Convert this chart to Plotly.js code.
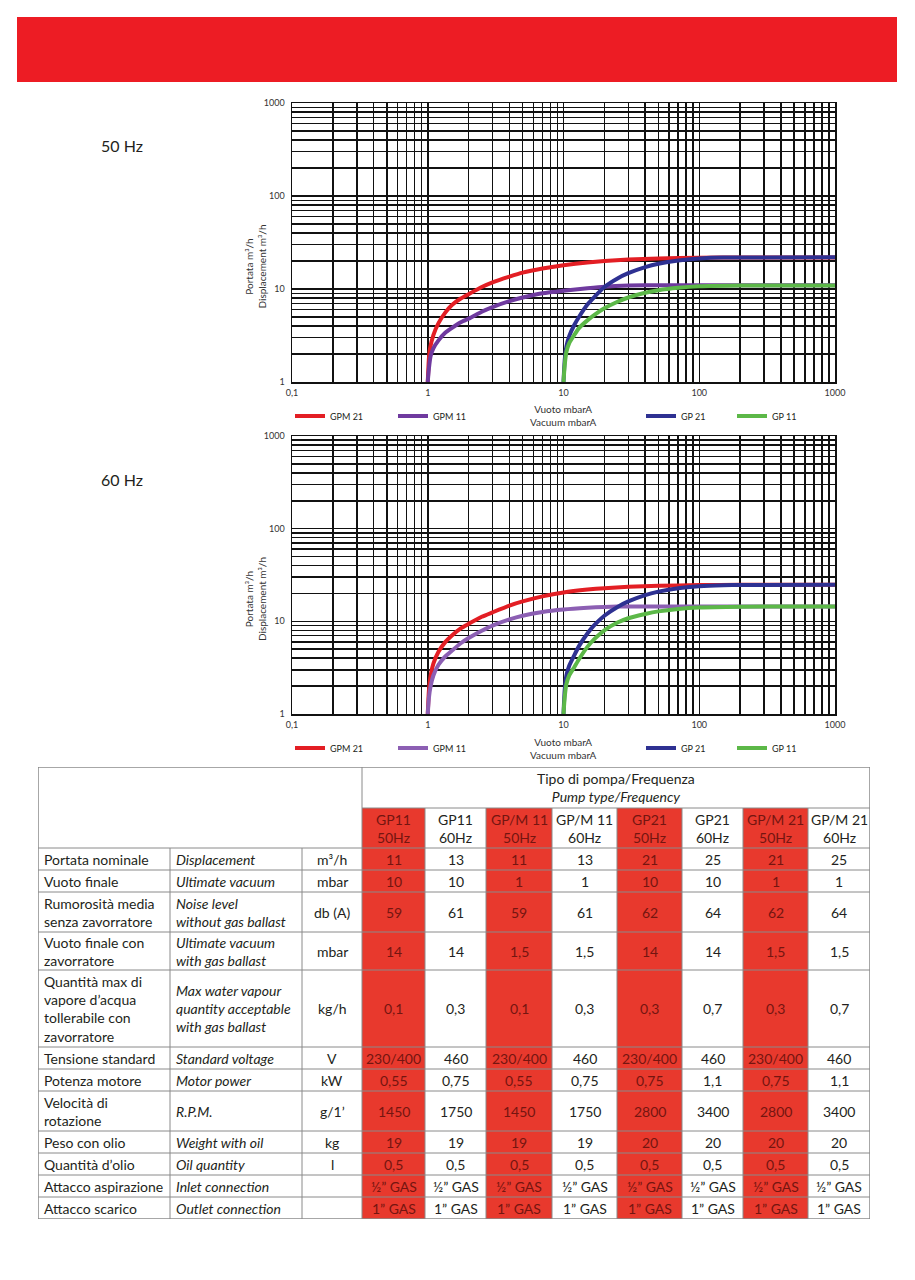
<!DOCTYPE html>
<html><head><meta charset="utf-8">
<script src="https://cdn.plot.ly/plotly-3.0.1.min.js"></script>
<style>html,body{margin:0;padding:0;background:#fff}#chart{width:915px;height:1280px}</style>
</head><body><div id="chart"></div>
<script>
// ================= DATA =================
const xTickLabels = ['0,1', '1', '10', '100', '1000'];
const yTickLabels = ['1', '10', '100', '1000'];
const seriesNames = ['GPM 21', 'GPM 11', 'GP 21', 'GP 11'];
const panelLabels = ['50 Hz', '60 Hz'];

// 50 Hz curves (x: vacuum mbarA, y: displacement m3/h)
const gpm21_50_x = [1, 1.02, 1.04, 1.1, 1.2, 1.35, 1.5, 1.75, 2, 2.5, 3, 4, 5, 7, 10, 15, 20, 30, 50, 100, 200, 1000];
const gpm21_50_y = [1, 1.8, 2.3, 3.2, 4.3, 5.6, 6.7, 7.9, 8.8, 10.5, 11.8, 13.6, 15, 16.6, 18, 19.3, 20, 20.7, 21.3, 21.7, 21.8, 21.8];
const gpm11_50_x = [1, 1.02, 1.05, 1.1, 1.2, 1.35, 1.5, 1.75, 2, 2.5, 3, 4, 5, 7, 10, 15, 20, 30, 50, 1000];
const gpm11_50_y = [1, 1.4, 1.9, 2.3, 2.8, 3.4, 3.8, 4.4, 4.8, 5.7, 6.4, 7.4, 8.1, 9, 9.6, 10.2, 10.6, 10.9, 11, 11];
const gp21_50_x = [10, 10.2, 10.5, 11, 12, 13, 15, 17, 20, 25, 30, 40, 50, 70, 100, 150, 1000];
const gp21_50_y = [1, 1.7, 2.4, 3.1, 4.1, 5, 6.8, 8.3, 10.5, 13, 14.8, 17.2, 18.7, 20.3, 21.3, 21.8, 21.9];
const gp11_50_x = [10, 10.2, 10.5, 11, 12, 13, 15, 17, 20, 25, 30, 40, 50, 70, 100, 200, 1000];
const gp11_50_y = [1, 1.5, 2.1, 2.6, 3.2, 3.8, 4.6, 5.3, 6.2, 7.3, 8.1, 9.1, 9.7, 10.3, 10.7, 10.9, 10.9];

// 60 Hz curves
const gpm21_60_x = [1, 1.02, 1.05, 1.1, 1.2, 1.35, 1.5, 1.75, 2, 2.5, 3, 4, 5, 7, 10, 15, 20, 30, 50, 100, 200, 1000];
const gpm21_60_y = [1, 1.8, 2.6, 3.5, 4.7, 6, 7, 8.4, 9.4, 11.2, 12.5, 14.8, 16.4, 18.6, 20.5, 22, 22.8, 23.6, 24.2, 24.6, 24.8, 24.8];
const gpm11_60_x = [1, 1.02, 1.05, 1.1, 1.2, 1.35, 1.5, 1.75, 2, 2.5, 3, 4, 5, 7, 10, 15, 20, 30, 1000];
const gpm11_60_y = [1, 1.5, 2, 2.6, 3.4, 4.2, 4.8, 5.8, 6.6, 7.9, 9, 10.5, 11.5, 12.6, 13.4, 14, 14.3, 14.5, 14.5];
const gp21_60_x = [10, 10.2, 10.5, 11, 12, 13, 15, 17, 20, 25, 30, 40, 50, 70, 100, 150, 200, 1000];
const gp21_60_y = [1, 1.8, 2.6, 3.3, 4.3, 5.4, 7.4, 9.2, 11.5, 14.3, 16.4, 19.2, 20.9, 22.8, 23.9, 24.5, 24.7, 24.8];
const gp11_60_x = [10, 10.2, 10.5, 11, 12, 13, 15, 17, 20, 25, 30, 40, 50, 70, 100, 200, 1000];
const gp11_60_y = [1, 1.5, 2.1, 2.6, 3.2, 3.9, 5.3, 6.5, 8, 9.7, 10.8, 12, 12.8, 13.6, 14.1, 14.4, 14.5];

// Table
const tableTitleIt = 'Tipo di pompa/Frequenza';
const tableTitleEn = 'Pump type/Frequency';
const modelNames = ['GP11<br>50Hz', 'GP11<br>60Hz', 'GP/M 11<br>50Hz', 'GP/M 11<br>60Hz', 'GP21<br>50Hz', 'GP21<br>60Hz', 'GP/M 21<br>50Hz', 'GP/M 21<br>60Hz'];
const rowLabelsIt = ['Portata nominale', 'Vuoto finale', 'Rumorosità media<br>senza zavorratore', 'Vuoto finale con<br>zavorratore',
  'Quantità max di<br>vapore d’acqua<br>tollerabile con<br>zavorratore', 'Tensione standard', 'Potenza motore', 'Velocità di<br>rotazione',
  'Peso con olio', 'Quantità d’olio', 'Attacco aspirazione', 'Attacco scarico'];
const rowLabelsEn = ['Displacement', 'Ultimate vacuum', 'Noise level<br>without gas ballast', 'Ultimate vacuum<br>with gas ballast',
  'Max water vapour<br>quantity acceptable<br>with gas ballast', 'Standard voltage', 'Motor power', 'R.P.M.',
  'Weight with oil', 'Oil quantity', 'Inlet connection', 'Outlet connection'];
const units = ['m³/h', 'mbar', 'db (A)', 'mbar', 'kg/h', 'V', 'kW', 'g/1’', 'kg', 'l', '', ''];
const gp11_50hz  = ['11', '10', '59', '14', '0,1', '230/400', '0,55', '1450', '19', '0,5', '½” GAS', '1” GAS'];
const gp11_60hz  = ['13', '10', '61', '14', '0,3', '460', '0,75', '1750', '19', '0,5', '½” GAS', '1” GAS'];
const gpm11_50hz = ['11', '1', '59', '1,5', '0,1', '230/400', '0,55', '1450', '19', '0,5', '½” GAS', '1” GAS'];
const gpm11_60hz = ['13', '1', '61', '1,5', '0,3', '460', '0,75', '1750', '19', '0,5', '½” GAS', '1” GAS'];
const gp21_50hz  = ['21', '10', '62', '14', '0,3', '230/400', '0,75', '2800', '20', '0,5', '½” GAS', '1” GAS'];
const gp21_60hz  = ['25', '10', '64', '14', '0,7', '460', '1,1', '3400', '20', '0,5', '½” GAS', '1” GAS'];
const gpm21_50hz = ['21', '1', '62', '1,5', '0,3', '230/400', '0,75', '2800', '20', '0,5', '½” GAS', '1” GAS'];
const gpm21_60hz = ['25', '1', '64', '1,5', '0,7', '460', '1,1', '3400', '20', '0,5', '½” GAS', '1” GAS'];
const modelValues = [gp11_50hz, gp11_60hz, gpm11_50hz, gpm11_60hz, gp21_50hz, gp21_60hz, gpm21_50hz, gpm21_60hz];

// ================= STYLE / LAYOUT =================
const W = 915, H = 1280;
const px = v => v / W;
const py = v => 1 - v / H;
const FONT = 'Lato, "Open Sans", sans-serif';
const RED = '#ed1c24';
const CELL_RED = '#e8392d';
const CELL_RED_TXT = '#741510';
const TXT = '#231f20';
const BORDER = '#8a8a8a';
const seriesColors = [['#e31e24', '#6f3a9f', '#2e3192', '#5cb848'], ['#e31e24', '#8c5fb3', '#2e3192', '#5cb848']];

const panels = [
  {top: 103, bottom: 382, left: 292, right: 835},
  {top: 436, bottom: 714, left: 292, right: 835}
];
const curves = [
  [[gpm21_50_x, gpm21_50_y], [gpm11_50_x, gpm11_50_y], [gp21_50_x, gp21_50_y], [gp11_50_x, gp11_50_y]],
  [[gpm21_60_x, gpm21_60_y], [gpm11_60_x, gpm11_60_y], [gp21_60_x, gp21_60_y], [gp11_60_x, gp11_60_y]]
];
const legendX = [290, 393, 641, 732];

// tick positions on log axes: every digit of every decade
function logTicks(minExp, maxExp, labels) {
  const vals = [], text = [];
  for (let e = minExp; e < maxExp; e++) {
    for (let d = 1; d <= 9; d++) {
      vals.push(d * Math.pow(10, e));
      text.push(d === 1 ? labels[e - minExp] : '');
    }
  }
  vals.push(Math.pow(10, maxExp));
  text.push(labels[labels.length - 1]);
  return {vals, text};
}
const xt = logTicks(-1, 3, xTickLabels);
const yt = logTicks(0, 3, yTickLabels);

const traces = [];
const layout = {
  width: W, height: H,
  margin: {l: 0, r: 0, t: 0, b: 0},
  paper_bgcolor: '#fff', plot_bgcolor: '#fff',
  font: {family: FONT, color: TXT},
  showlegend: true,
  shapes: [], annotations: []
};

// red band
layout.shapes.push({type: 'rect', xref: 'paper', yref: 'paper', x0: px(17), x1: px(897), y0: py(82), y1: py(17),
  fillcolor: RED, line: {width: 0}, layer: 'below'});

panels.forEach((p, pi) => {
  const xa = pi === 0 ? 'xaxis' : 'xaxis2';
  const ya = pi === 0 ? 'yaxis' : 'yaxis2';
  const xr = pi === 0 ? 'x' : 'x2';
  const yr = pi === 0 ? 'y' : 'y2';
  const axCommon = {
    type: 'log', tickmode: 'array', showline: true, mirror: true, linecolor: '#111', linewidth: 1.5,
    showgrid: true, gridcolor: '#111', gridwidth: 1.5, ticks: '', fixedrange: true,
    tickfont: {size: 9, color: '#333', family: FONT}, zeroline: false
  };
  layout[xa] = Object.assign({}, axCommon, {
    domain: [px(p.left), px(p.right)], range: [-1, 3], anchor: yr,
    tickvals: xt.vals, ticktext: xt.text, ticklabelstandoff: 2
  });
  layout[ya] = Object.assign({}, axCommon, {
    domain: [py(p.bottom), py(p.top)], range: [0, 3], anchor: xr,
    tickvals: yt.vals, ticktext: yt.text, ticklabelstandoff: 4
  });
  curves[pi].forEach((c, si) => {
    const lgName = 'legend' + (pi * 4 + si === 0 ? '' : (pi * 4 + si + 1));
    traces.push({
      type: 'scatter', mode: 'lines', x: c[0], y: c[1], xaxis: xr, yaxis: yr,
      name: seriesNames[si], legend: lgName,
      line: {color: seriesColors[pi][si], width: 4, shape: 'spline', smoothing: 0.5},
      hoverinfo: 'skip', cliponaxis: true
    });
    layout[lgName] = {
      x: px(legendX[si]), y: py(p.bottom + 34), xanchor: 'left', yanchor: 'middle',
      orientation: 'h', bgcolor: 'rgba(0,0,0,0)', borderwidth: 0,
      font: {size: 9, color: TXT, family: FONT}, itemwidth: 30
    };
  });
  // axis titles
  layout.annotations.push({xref: 'paper', yref: 'paper', x: px(255), y: py((p.top + p.bottom) / 2 + 24),
    text: 'Portata m³/h<br>Displacement m³/h', textangle: -90, showarrow: false,
    xanchor: 'center', yanchor: 'middle', font: {size: 10, color: '#333', family: FONT}});
  layout.annotations.push({xref: 'paper', yref: 'paper', x: px((p.left + p.right) / 2), y: py(p.bottom + 34),
    text: 'Vuoto mbarA<br>Vacuum mbarA', showarrow: false,
    xanchor: 'center', yanchor: 'middle', font: {size: 10, color: '#333', family: FONT}});
  // panel label
  layout.annotations.push({xref: 'paper', yref: 'paper', x: px(99), y: py(p.top + 43),
    text: panelLabels[pi], showarrow: false, xanchor: 'left', yanchor: 'middle',
    font: {size: 16, color: TXT, family: FONT}});
});

// ================= TABLE (on hidden axes x3/y3, units = px) =================
const colWidths = [132, 132, 60, 63, 61, 66, 65, 65, 61, 65, 62];
const rowHeights = [41, 40, 22, 22, 40, 38, 77, 22, 22, 40, 22, 22, 22, 22];
const colX = [0]; colWidths.forEach(w => colX.push(colX[colX.length - 1] + w));
const rowY = [0]; rowHeights.forEach(h => rowY.push(rowY[rowY.length - 1] + h));
const TW = colX[colX.length - 1], TH = rowY[rowY.length - 1];
const T = {left: 38, top: 767};
layout.xaxis3 = {domain: [px(T.left), px(T.left + TW)], range: [0, TW], visible: false, anchor: 'y3', fixedrange: true};
layout.yaxis3 = {domain: [py(T.top + TH), py(T.top)], range: [TH, 0], visible: false, anchor: 'x3', fixedrange: true};
traces.push({type: 'scatter', x: [], y: [], xaxis: 'x3', yaxis: 'y3', showlegend: false, hoverinfo: 'skip'});

const tShape = o => Object.assign({xref: 'x3', yref: 'y3', layer: 'above'}, o);
const isRedCol = m => m % 2 === 0;
// red fills
modelNames.forEach((m, mi) => {
  if (isRedCol(mi)) layout.shapes.push(tShape({type: 'rect', x0: colX[3 + mi], x1: colX[4 + mi], y0: rowY[1], y1: TH,
    fillcolor: CELL_RED, line: {width: 0}}));
});
// grid lines
const ln = (x0, y0, x1, y1) => layout.shapes.push(tShape({type: 'line', x0, y0, x1, y1, line: {color: BORDER, width: 1}}));
ln(colX[3], rowY[1], TW, rowY[1]);
for (let r = 2; r < rowY.length - 1; r++) ln(0, rowY[r], TW, rowY[r]);
ln(colX[1], rowY[2], colX[1], TH);
ln(colX[2], rowY[2], colX[2], TH);
ln(colX[3], 0, colX[3], TH);
for (let c = 4; c < colX.length - 1; c++) ln(colX[c], rowY[1], colX[c], TH);
layout.shapes.push(tShape({type: 'rect', x0: 0, x1: TW, y0: 0, y1: TH, line: {color: BORDER, width: 1.5}, fillcolor: 'rgba(0,0,0,0)'}));

const tText = (text, x, y, xanchor, color, italic) => layout.annotations.push({
  xref: 'x3', yref: 'y3', x, y, text, showarrow: false, xanchor, yanchor: 'middle',
  align: xanchor === 'left' ? 'left' : 'center', borderpad: 0,
  font: {size: 14, color, family: FONT, style: italic ? 'italic' : 'normal'}
});
tText(tableTitleIt + '<br><i>' + tableTitleEn + '</i>', (colX[3] + TW) / 2, rowHeights[0] / 2, 'center', TXT, false);
modelNames.forEach((m, mi) => tText(m, (colX[3 + mi] + colX[4 + mi]) / 2, (rowY[1] + rowY[2]) / 2, 'center',
  isRedCol(mi) ? CELL_RED_TXT : TXT, false));
rowLabelsIt.forEach((lab, ri) => {
  const yc = (rowY[ri + 2] + rowY[ri + 3]) / 2;
  tText(lab, colX[0] + 5, yc, 'left', TXT, false);
  tText(rowLabelsEn[ri], colX[1] + 5, yc, 'left', TXT, true);
  tText(units[ri], (colX[2] + colX[3]) / 2, yc, 'center', TXT, false);
  modelValues.forEach((vals, mi) => tText(vals[ri], (colX[3 + mi] + colX[4 + mi]) / 2, yc, 'center',
    isRedCol(mi) ? CELL_RED_TXT : TXT, false));
});

Plotly.newPlot('chart', traces, layout, {staticPlot: true, displayModeBar: false});
</script>
</body></html>
